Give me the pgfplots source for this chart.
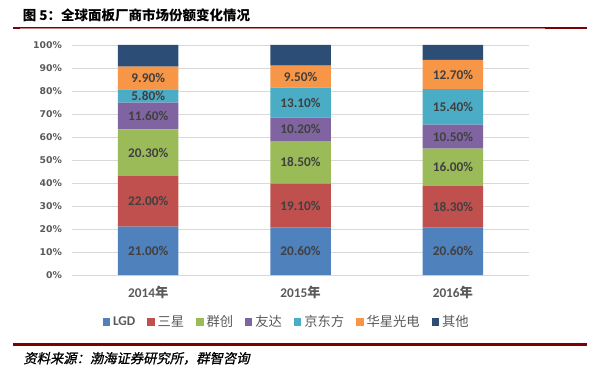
\documentclass[border=0pt]{standalone}
\usepackage{pgfplots}
\pgfplotsset{compat=1.18}
\usepackage{pgfplotstable}
\usepackage{fontspec}
\setmainfont{Carlito}
\newfontfamily\cjk{Noto Sans CJK SC}
\newfontfamily\cjksl[FakeSlant=0.2,FakeBold=0.8]{Noto Sans CJK SC}
\newfontfamily\dejavu{DejaVu Sans}
\definecolor{cLGD}{HTML}{4F81BD}
\definecolor{cSam}{HTML}{C0504D}
\definecolor{cQun}{HTML}{9BBB59}
\definecolor{cYou}{HTML}{8064A2}
\definecolor{cBOE}{HTML}{4BACC6}
\definecolor{cCSOT}{HTML}{F79646}
\definecolor{cOth}{HTML}{2C4D75}
\definecolor{txt}{HTML}{595959}
\definecolor{lbl}{HTML}{404040}
\definecolor{dred}{HTML}{7F0000}
\definecolor{lred}{HTML}{C98080}
\definecolor{gridc}{HTML}{D9D9D9}

\pgfplotstableread{
x LGD Sam Qun You BOE CSOT Oth
0 21.00 22.00 20.30 11.60 5.80 9.90 9.40
1 20.60 19.10 18.50 10.20 13.10 9.50 9.00
2 20.60 18.30 16.00 10.50 15.40 12.70 6.50
}\data

\pgfplotsset{
  geom/.style={
    at={(72.05pt,100pt)}, anchor=south west,
    scale only axis, width=457pt, height=230pt,
    xmin=-0.5, xmax=2.5, ymin=0, ymax=100,
  },
  seglabel/.style={
    draw=none, mark=none,
    nodes near coords={\pgfplotspointmeta\%},
    point meta=explicit symbolic,
    every node near coord/.style={anchor=center,
      font=\fontsize{13.3}{15}\selectfont\bfseries, text=lbl, inner sep=0pt},
  },
}

\begin{document}
\begin{tikzpicture}[x=1pt,y=1pt]
\path[use as bounding box] (0,0) rectangle (599,375);
% title
\node[anchor=west, inner sep=0pt] at (22.7,360) {\cjk\bfseries\fontsize{13.5}{16}\selectfont 图 5：全球面板厂商市场份额变化情况};
\fill[dred] (13.3,346.7) rectangle (586.7,347.7);
\fill[lred] (20,345.7) rectangle (545,346.7);
\fill[dred] (13.3,345.7) rectangle (20,346.7);
\fill[dred] (545,345.7) rectangle (586.7,346.7);

\begin{axis}[
  geom,
  ybar stacked, bar width=0.397,
  xtick={0,1,2},
  xticklabels={2014{\cjk 年},2015{\cjk 年},2016{\cjk 年}},
  ytick={0,10,...,100},
  yticklabel={\pgfmathprintnumber[assume math mode=true]{\tick}\%},
  ymajorgrids, grid style={gridc, line width=0.75pt},
  axis line style={draw=none},
  major tick length=0pt,
  tick style={draw=none},
  yticklabel style={font=\dejavu\fontsize{9.3}{11}\selectfont\bfseries, text=txt, anchor=east, inner sep=0pt, xshift=-10pt},
  xticklabel style={font=\fontsize{13.3}{15}\selectfont\bfseries, text=txt, anchor=base, inner sep=0pt, yshift=-22.5pt},
  legend style={
    at={(0.4675,-0.2043)}, anchor=center,
    draw=none, fill=none,
    font=\fontsize{13.3}{15}\selectfont, text=txt,
    column sep=3pt,
    /tikz/every even column/.append style={column sep=12pt},
    nodes={inner sep=0pt},
  },
  legend columns=-1,
  legend cell align=left,
  legend image code/.code={\fill[#1] (0pt,-3.65pt) rectangle (7.3pt,3.65pt);},
]
\addplot[fill=cLGD, draw=none] table[x=x, y=LGD] {\data};
\addplot[fill=cSam, draw=none] table[x=x, y=Sam] {\data};
\addplot[fill=cQun, draw=none] table[x=x, y=Qun] {\data};
\addplot[fill=cYou, draw=none] table[x=x, y=You] {\data};
\addplot[fill=cBOE, draw=none] table[x=x, y=BOE] {\data};
\addplot[fill=cCSOT, draw=none] table[x=x, y=CSOT] {\data};
\addplot[fill=cOth, draw=none] table[x=x, y=Oth] {\data};
\legend{{\bfseries LGD},{\cjk 三星},{\cjk 群创},{\cjk 友达},{\cjk 京东方},{\cjk 华星光电},{\cjk 其他}}
\end{axis}

% segment labels, centred in each segment (same geometry, not stacked)
\begin{axis}[geom, hide axis]
\addplot[seglabel] table[x=x, y expr=\thisrow{LGD}/2, meta=LGD] {\data};
\addplot[seglabel] table[x=x, y expr=\thisrow{LGD}+\thisrow{Sam}/2, meta=Sam] {\data};
\addplot[seglabel] table[x=x, y expr=\thisrow{LGD}+\thisrow{Sam}+\thisrow{Qun}/2, meta=Qun] {\data};
\addplot[seglabel] table[x=x, y expr=\thisrow{LGD}+\thisrow{Sam}+\thisrow{Qun}+\thisrow{You}/2, meta=You] {\data};
\addplot[seglabel] table[x=x, y expr=\thisrow{LGD}+\thisrow{Sam}+\thisrow{Qun}+\thisrow{You}+\thisrow{BOE}/2, meta=BOE] {\data};
\addplot[seglabel] table[x=x, y expr=\thisrow{LGD}+\thisrow{Sam}+\thisrow{Qun}+\thisrow{You}+\thisrow{BOE}+\thisrow{CSOT}/2, meta=CSOT] {\data};
\end{axis}

% bottom rule and source
\fill[dred] (12.7,29.3) rectangle (587,31.7);
\fill[dred] (12.7,28.8) rectangle (20.7,31.7);
\fill[dred] (545,28.8) rectangle (587,31.7);
\node[anchor=west, inner sep=0pt] at (23.3,16.7) {\cjksl\fontsize{13.3}{16}\selectfont 资料来源：渤海证券研究所，群智咨询};
\end{tikzpicture}
\end{document}
